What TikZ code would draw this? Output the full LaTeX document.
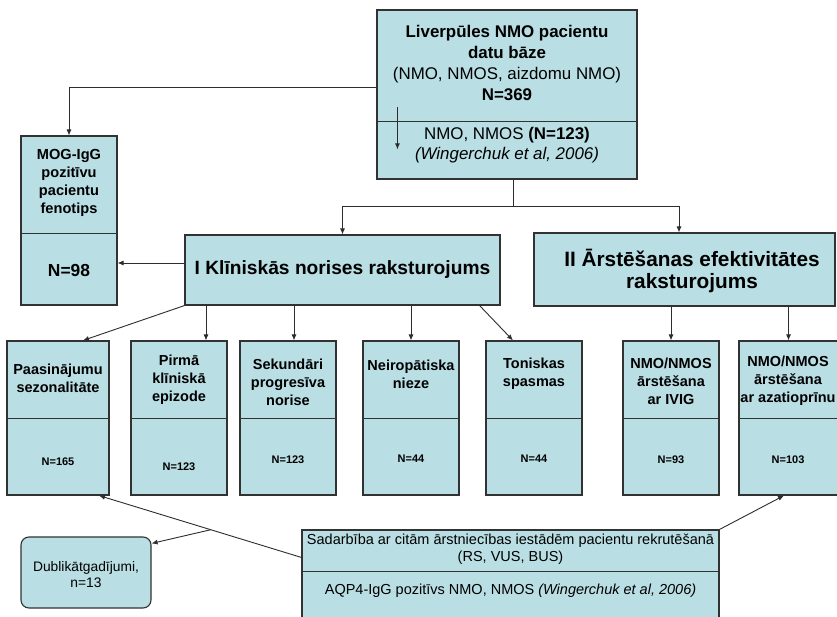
\documentclass[tikz,border=0pt]{standalone}
\usepackage{fontspec}
\setmainfont{Liberation Sans}
\usetikzlibrary{arrows.meta,calc}
\definecolor{boxfill}{RGB}{185,222,228}
\definecolor{edgecol}{RGB}{50,50,50}
\definecolor{linecol}{RGB}{45,45,45}
\begin{document}
\begin{tikzpicture}[x=1pt,y=-1pt,
  panel/.style={draw=edgecol,fill=boxfill,line width=1.1pt,inner sep=0pt},
  divline/.style={draw=edgecol,line width=1pt},
  conn/.style={draw=linecol,line width=0.9pt},
  arr/.style={conn,-{Latex[length=6pt,width=5pt]}},
  txt/.style={inner sep=0pt,align=center,text=black},
  ttl/.style={txt,font=\fontsize{14.5}{18}\selectfont\bfseries},
  nlab/.style={txt,font=\fontsize{11}{13}\selectfont\bfseries}]
\useasboundingbox (0,0) rectangle (837,617);
\fill[white] (0,0) rectangle (837,617);
\clip (0,0) rectangle (837,617);

% ---- top box
\node[panel,minimum width=260,minimum height=169] (top) at (507,94.5) {};
\draw[divline] ($(top.north west)+(0,112)$) -- ($(top.north east)+(0,112)$);
\node[txt,font=\fontsize{16.9}{21}\selectfont] (toptxt) at (507,62.5)
  {\textbf{Liverpūles NMO pacientu}\\\textbf{datu bāze}\\(NMO, NMOS, aizdomu NMO)\\\textbf{N=369}};
\node[txt,font=\fontsize{16.9}{20}\selectfont] (toptxt2) at (507,145)
  {NMO, NMOS \textbf{(N=123)}\\\textit{(Wingerchuk et al, 2006)}};
\coordinate (inA) at ($(top.north west)+(21,98)$);
\coordinate (inB) at ($(top.north west)+(21,140)$);
\draw[arr] (inA) -- (inB);

% ---- MOG box
\node[panel,minimum width=96,minimum height=169] (mog) at (69,220.5) {};
\draw[divline] ($(mog.north west)+(0,98)$) -- ($(mog.north east)+(0,98)$);
\node[txt,font=\fontsize{14.6}{18}\selectfont\bfseries] (mogtxt) at (69,183)
  {MOG-IgG\\pozitīvu\\pacientu\\fenotips};
\node[txt,font=\fontsize{17.4}{20}\selectfont\bfseries] (mogn) at (69,271) {N=98};

% ---- box I and II
\node[panel,minimum width=315,minimum height=70] (bI) at (342.5,270) {};
\node[txt,font=\fontsize{19.2}{22}\selectfont\bfseries] (bItxt) at (342.5,270)
  {I Klīniskās norises raksturojums};
\node[panel,minimum width=301,minimum height=73] (bII) at (684.5,269.5) {};
\node[txt,font=\fontsize{20.8}{22.5}\selectfont\bfseries] (bIItxt) at (692,271)
  {II Ārstēšanas efektivitātes\\raksturojums};

% ---- bottom row
\node[panel,minimum width=102,minimum height=154] (b1) at (58,418) {};
\node[panel,minimum width=96,minimum height=154] (b2) at (179,418) {};
\node[panel,minimum width=96,minimum height=154] (b3) at (288,418) {};
\node[panel,minimum width=96,minimum height=154] (b4) at (411,418) {};
\node[panel,minimum width=96,minimum height=154] (b5) at (534,418) {};
\node[panel,minimum width=96,minimum height=154] (b6) at (671,418) {};
\node[panel,minimum width=99,minimum height=154] (b7) at (788.5,418) {};
\foreach \b in {b1,b2,b3,b4,b5,b6,b7}{
  \draw[divline] (\b.west) -- (\b.east);
}
\node[ttl] (t1) at (58,378) {Paasinājumu\\sezonalitāte};
\node[ttl] (t2) at (179,380) {Pirmā\\klīniskā\\epizode};
\node[ttl] (t3) at (288,382) {Sekundāri\\progresīva\\norise};
\node[ttl] (t4) at (411,374) {Neiropātiska\\nieze};
\node[ttl] (t5) at (534,374) {Toniskas\\spasmas};
\node[ttl] (t6) at (671,381) {NMO/NMOS\\ārstēšana\\ar IVIG};
\node[ttl] (t7) at (788,381) {NMO/NMOS\\ārstēšana\\ar azatioprīnu};
\node[nlab] (n1) at (58,462) {N=165};
\node[nlab] (n2) at (179,467) {N=123};
\node[nlab] (n3) at (288,460) {N=123};
\node[nlab] (n4) at (411,459) {N=44};
\node[nlab] (n5) at (534,459) {N=44};
\node[nlab] (n6) at (671,460) {N=93};
\node[nlab] (n7) at (788,460) {N=103};

% ---- lower boxes
\node[panel,rounded corners=8pt,minimum width=130,minimum height=71] (dub) at (86,572.5) {};
\node[txt,font=\fontsize{13.8}{15.5}\selectfont] (dubtxt) at (86,574.5) {Dublikātgadījumi,\\n=13};
\node[panel,minimum width=417,minimum height=110] (big) at (510.5,585) {};
\draw[divline] ($(big.north west)+(0,42)$) -- ($(big.north east)+(0,42)$);
\node[txt,font=\fontsize{14.5}{17}\selectfont] (bigtxt) at (510.5,549.5)
  {Sadarbība ar citām ārstniecības iestādēm pacientu rekrutēšanā\\(RS, VUS, BUS)};
\node[txt,font=\fontsize{14.5}{17}\selectfont] (bigtxt2) at (510.5,591)
  {AQP4-IgG pozitīvs NMO, NMOS \textit{(Wingerchuk et al, 2006)}};

% ---- connectors
\coordinate (tl) at ($(top.north west)+(0,78)$);
\draw[arr] (tl) -| (mog.north);
\coordinate (tb) at ($(top.south)+(6,0)$);
\coordinate (split) at ($(tb)+(0,27)$);
\draw[conn] (tb) -- (split);
\draw[arr] (split) -| (bI.north);
\draw[arr] (split) -| ($(bII.north)+(-5.5,0)$);
\coordinate (lfrom) at ($(bI.west)+(0,-7)$);
\draw[arr] (lfrom) -- (mog.east |- lfrom);

\coordinate (c2) at ($(b2.north)+(27,0)$);
\coordinate (c3) at ($(b3.north)+(6,0)$);
\draw[arr] (bI.south west) -- ($(b1.north)+(25,0)$);
\draw[arr] (bI.south west -| c2) -- (c2);
\draw[arr] (bI.south west -| c3) -- (c3);
\draw[arr] (bI.south west -| b4.north) -- (b4.north);
\draw[arr] ($(bI.south east)+(-21,0)$) -- ($(b5.north)+(-21,0)$);
\draw[arr] (bII.south west -| b6.north) -- (b6.north);
\draw[arr] (bII.south west -| b7.north) -- (b7.north);

\coordinate (bigl) at ($(big.north west)+(0,28)$);
\coordinate (tip1) at ($(b1.south)+(41,0)$);
\draw[arr] (bigl) -- (tip1);
\coordinate (brk) at ($(bigl)!0.448!(tip1)$);
\draw[arr] (brk) -- ($(dub.north east)+(0,7)$);
\draw[arr] (big.north east) -- ($(b7.south)+(-4.5,0)$);
\end{tikzpicture}
\end{document}
